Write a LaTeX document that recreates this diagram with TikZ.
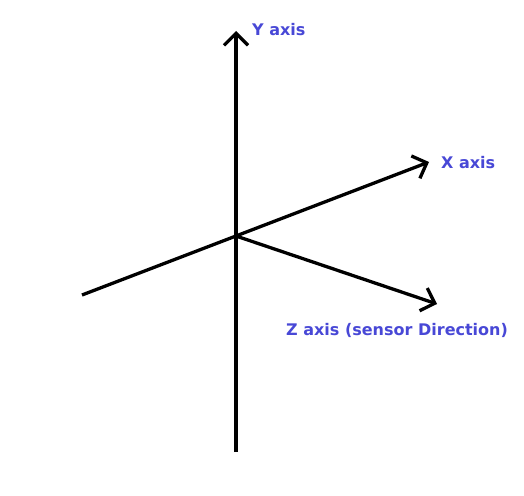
\documentclass[tikz,border=0pt]{standalone}
\usepackage{fontspec}
\setmainfont{DejaVu Sans}
\usetikzlibrary{arrows.meta}
\definecolor{lbl}{RGB}{72,72,214}
\tikzset{
  axisline/.style={line width=3.3pt, -{Straight Barb[length=12pt,width=24pt,line width=3.3pt]}},
  axislabel/.style={text=lbl, font=\bfseries\fontsize{16}{18}\selectfont, anchor=west, inner sep=0pt}
}
\begin{document}
\begin{tikzpicture}[x=1pt,y=-1pt]
\useasboundingbox (0,0) rectangle (524,495);
\coordinate (o) at (236,236);
\coordinate (ybot) at (236,452);
\coordinate (ytop) at (236,31);
\coordinate (xneg) at (82,295);
\coordinate (xtip) at (429,162);
\coordinate (ztip) at (437,304);
\draw[axisline] (ybot) -- (ytop);
\draw[axisline] (xneg) -- (xtip);
\draw[axisline] (o) -- (ztip);
\node[axislabel] (ylab) at (252,30) {Y axis};
\node[axislabel] (xlab) at (441,163) {X axis};
\node[axislabel] (zlab) at (286,330) {Z axis (sensor Direction)};
\end{tikzpicture}
\end{document}
